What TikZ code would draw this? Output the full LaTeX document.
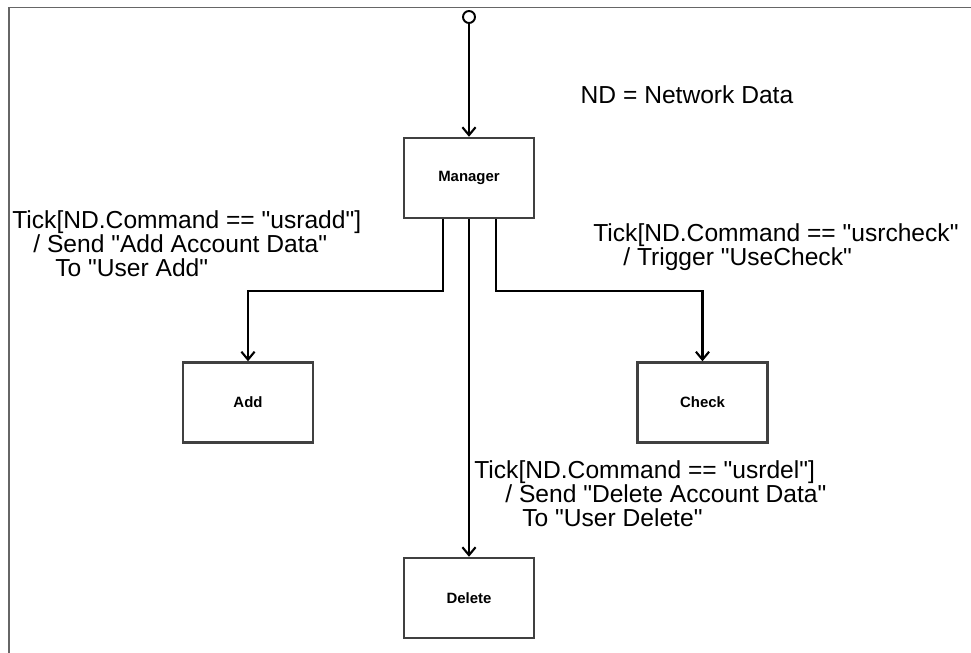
\documentclass[tikz,border=0pt]{standalone}
\usepackage{fontspec}
\setmainfont{Liberation Sans}[Ligatures=TeXOff]
\usetikzlibrary{arrows.meta}
\usetikzlibrary{positioning}

\begin{document}
\begin{tikzpicture}[box/.style={draw=black!75,line width=1.4pt,minimum width=2.6cm,minimum height=1.6cm,font=\fontsize{8.5}{10}\selectfont\bfseries},
	lbl/.style={align=left,inner sep=0pt,font=\fontsize{14}{13.7}\selectfont},
	flow/.style={-{Straight Barb[length=4.5pt,width=7.5pt]},line width=1.2pt}]

		\useasboundingbox (0,0) rectangle (19.42,-13.06) ;
		\draw [black!60,line width=0.6pt] (19.42,-0.15)--(0.18,-0.15)--(0.18,-13.06) ;

		\node [draw,circle,line width=1.1pt,inner sep=0pt,minimum size=0.24cm] (I) at (9.38,-0.34) {} ;
		\node [box] (M) at (9.38,-3.56) {Manager} ;
		\node [box] (A) at (4.96,-8.05) {Add} ;
		\node [box] (C) at (14.05,-8.05) {Check} ;
		\node [box] (D) at (9.38,-11.96) {Delete} ;

		\node [lbl] (ND) at (13.74,-1.9) {ND = Network Data} ;
		\node [lbl,anchor=north west] (LA) at (0.24,-4.2) {Tick[ND.Command == "usradd"]\\
			\hspace*{0.42cm}/ Send "Add Account Data"\\
			\hspace*{0.86cm}To "User Add"} ;
		\node [lbl,anchor=north west] (LC) at (11.86,-4.46) {Tick[ND.Command == "usrcheck"\\
			\hspace*{0.6cm}/ Trigger "UseCheck"} ;
		\node [lbl,anchor=north west] (LD) at (9.48,-9.2) {Tick[ND.Command == "usrdel"]\\
			\hspace*{0.62cm}/ Send "Delete Account Data"\\
			\hspace*{0.96cm}To "User Delete"} ;

		\draw [flow] (I) -- (M) ;
		\draw [flow] (M) -- (D) ;
		\draw [flow] ([xshift=-0.52cm]M.south) -- ++(0,-1.44) -| (A.north) ;
		\draw [flow] ([xshift=0.54cm]M.south) -- ++(0,-1.44) -| (C.north) ;

\end{tikzpicture}
\end{document}
